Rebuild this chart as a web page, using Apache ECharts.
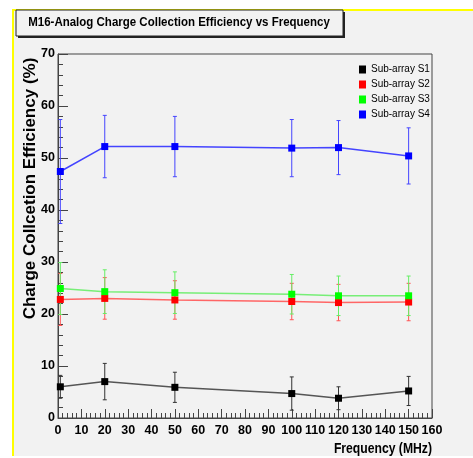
<!DOCTYPE html>
<html>
<head>
<meta charset="utf-8">
<script src="https://cdn.jsdelivr.net/npm/echarts@6/dist/echarts.min.js"></script>
<style>
  html, body { margin: 0; padding: 0; background: #ffffff; }
  #pad {
    position: absolute; left: 12px; top: 9px; width: 461px; height: 447px;
    background: #f2f2f2; border-left: 2px solid #ffff00; border-top: 2px solid #ffff00;
    box-sizing: border-box;
  }
  #chart { position: absolute; left: 0; top: 0; width: 473px; height: 458px; }
</style>
</head>
<body>
<div id="pad"></div>
<div id="chart"></div>
<script>
// Frequency points (MHz)
const freq = [1, 20, 50, 100, 120, 150];

// Collection efficiency (%) and symmetric errors per sub-array
const s1 = [6.0, 7.0, 5.9, 4.7, 3.8, 5.2];
const s1Err = [2.2, 3.5, 2.9, 3.2, 2.2, 2.8];
const s2 = [22.8, 23.0, 22.7, 22.4, 22.2, 22.3];
const s2Err = [5.0, 4.0, 3.7, 3.5, 3.5, 3.6];
const s3 = [24.9, 24.3, 24.1, 23.8, 23.5, 23.5];
const s3Err = [5.0, 4.2, 4.0, 3.8, 3.8, 3.8];
const s4 = [47.4, 52.2, 52.2, 51.9, 52.0, 50.4];
const s4Err = [10.0, 6.0, 5.8, 5.5, 5.2, 5.4];

const seriesNames = ['Sub-array S1', 'Sub-array S2', 'Sub-array S3', 'Sub-array S4'];
const seriesValues = [s1, s2, s3, s4];
const seriesErrors = [s1Err, s2Err, s3Err, s4Err];
const markerColors = ['#000000', '#ff0000', '#00ff00', '#0000ff'];
const lineColors = ['#555555', '#ff6666', '#77ee77', '#4444ff'];
const errColors = ['#333333', '#ff5555', '#66ee66', '#4444ff'];

const FONT = '"Liberation Sans", Arial, sans-serif';

const chart = echarts.init(document.getElementById('chart'));

function errorBarSeries(i) {
  const data = freq.map((f, k) => [f, seriesValues[i][k] - seriesErrors[i][k], seriesValues[i][k] + seriesErrors[i][k]]);
  return {
    type: 'custom',
    z: 3,
    silent: true,
    encode: { x: 0, y: [1, 2] },
    data: data,
    renderItem: function (params, api) {
      const x = api.value(0);
      const lo = api.coord([x, api.value(1)]);
      const hi = api.coord([x, api.value(2)]);
      const cap = 2;
      const st = { stroke: errColors[i], lineWidth: 1 };
      return {
        type: 'group',
        children: [
          { type: 'line', shape: { x1: lo[0], y1: lo[1], x2: hi[0], y2: hi[1] }, style: st },
          { type: 'line', shape: { x1: lo[0] - cap, y1: lo[1], x2: lo[0] + cap, y2: lo[1] }, style: st },
          { type: 'line', shape: { x1: hi[0] - cap, y1: hi[1], x2: hi[0] + cap, y2: hi[1] }, style: st }
        ]
      };
    }
  };
}

const series = [];
seriesNames.forEach((name, i) => {
  series.push(errorBarSeries(i));
  series.push({
    name: name,
    type: 'line',
    z: 4,
    data: freq.map((f, k) => [f, seriesValues[i][k]]),
    symbol: 'rect',
    symbolSize: 7,
    itemStyle: { color: markerColors[i] },
    lineStyle: { color: lineColors[i], width: 1.5 },
    animation: false
  });
});

const axisLabelStyle = { fontFamily: FONT, fontWeight: 'bold', fontSize: 12.5, color: '#000' };

chart.setOption({
  animation: false,
  grid: {
    left: 58, right: 41, top: 54, bottom: 40,
    show: true, borderColor: '#444', borderWidth: 1, backgroundColor: 'transparent'
  },
  legend: {
    orient: 'vertical',
    left: 359, top: 64,
    padding: 0,
    itemWidth: 7, itemHeight: 8, itemGap: 4,
    icon: 'rect',
    data: seriesNames,
    textStyle: { fontFamily: FONT, fontSize: 10, lineHeight: 11, color: '#000' }
  },
  xAxis: {
    type: 'value', min: 0, max: 160, interval: 10,
    axisLine: { lineStyle: { color: '#444' } },
    axisTick: { inside: true, length: 9, lineStyle: { color: '#444' } },
    minorTick: { show: true, splitNumber: 5, length: 5, lineStyle: { color: '#444' } },
    splitLine: { show: false },
    axisLabel: Object.assign({ margin: 6 }, axisLabelStyle)
  },
  yAxis: {
    type: 'value', min: 0, max: 70, interval: 10,
    axisLine: { show: true, lineStyle: { color: '#444' } },
    axisTick: { show: true, inside: true, length: 10, lineStyle: { color: '#444' } },
    minorTick: { show: true, splitNumber: 5, length: 5, lineStyle: { color: '#444' } },
    splitLine: { show: false },
    axisLabel: Object.assign({ margin: 3 }, axisLabelStyle)
  },
  graphic: [
    { type: 'rect', z: 100, shape: { x: 18, y: 12, width: 327, height: 26 }, style: { fill: '#222' } },
    { type: 'rect', z: 101, shape: { x: 16, y: 10, width: 327, height: 26 }, style: { fill: '#f2f2f2', stroke: '#222', lineWidth: 1 } },
    { type: 'text', z: 102, x: 179, y: 23, scaleX: 0.92,
      style: { text: 'M16-Analog Charge Collection Efficiency vs Frequency', font: 'bold 12.5px ' + FONT, fill: '#000', textAlign: 'center', textVerticalAlign: 'middle' } },
    { type: 'text', z: 102, x: 30, y: 188.5, rotation: Math.PI / 2,
      style: { text: 'Charge Collcetion Efficiency (%)', font: 'bold 17px ' + FONT, fill: '#000', textAlign: 'center', textVerticalAlign: 'middle' } },
    { type: 'text', z: 102, x: 432, y: 449, scaleX: 0.87,
      style: { text: 'Frequency (MHz)', font: 'bold 14px ' + FONT, fill: '#000', textAlign: 'right', textVerticalAlign: 'middle' } }
  ],
  series: series
});
</script>
</body>
</html>
